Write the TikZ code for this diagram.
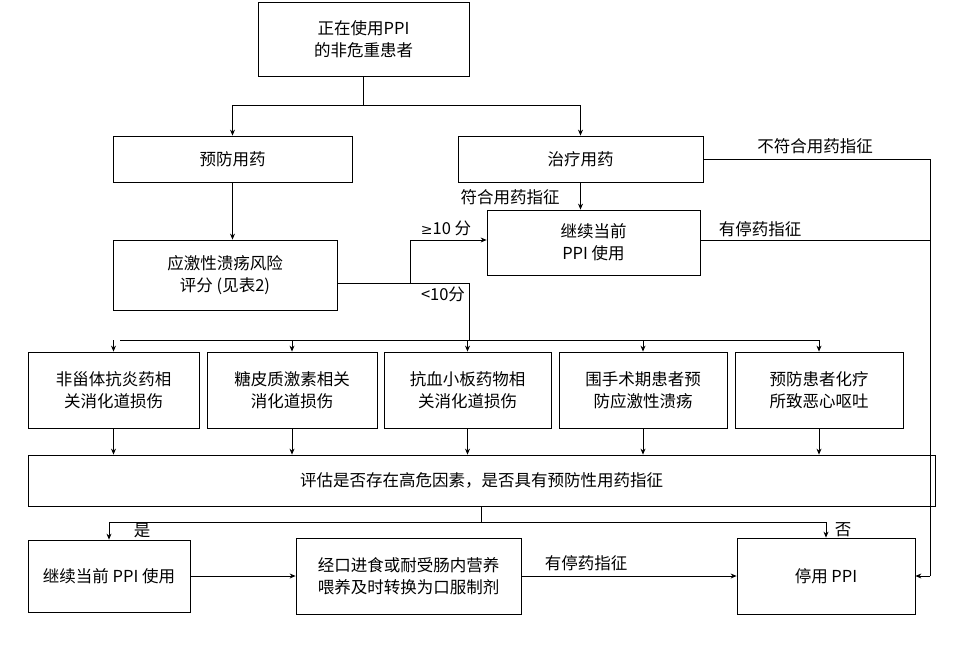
\documentclass[tikz,border=0pt]{standalone}
\usepackage{fontspec}
\setmainfont{Liberation Serif}
\newfontfamily\cjk{Noto Sans CJK SC}
\usetikzlibrary{arrows.meta}
\begin{document}
\begin{tikzpicture}[x=1pt,y=-1pt,
  box/.style={draw,line width=0.8pt,align=center,font=\cjk\fontsize{16.5}{22}\selectfont,inner sep=0pt},
  lab/.style={font=\cjk\fontsize{16.5}{19}\selectfont,inner sep=1pt},
  arr/.style={draw,line width=0.8pt,-{Stealth[length=6pt,width=5pt]}},
  ln/.style={draw,line width=0.8pt}]
\useasboundingbox (0,0) rectangle (953,660);
\newcommand\bx[6]{\node[box,minimum width=#4-#2,minimum height=#5-#3] (#1) at ({(#2+#4)/2},{(#3+#5)/2}) {#6};}
\bx{top}{258}{2}{469}{76}{正在使用PPI\\的非危重患者}
\bx{yf}{113}{136}{352}{182}{预防用药}
\bx{zl}{458}{136}{703}{182}{治疗用药}
\bx{jx}{487}{210}{700}{275}{继续当前\\PPI 使用}
\bx{pf}{113}{240}{337}{310}{应激性溃疡风险\\评分 (见表2)}
\bx{b1}{28}{352}{199}{428}{非甾体抗炎药相\\关消化道损伤}
\bx{b2}{207}{352}{377}{428}{糖皮质激素相关\\消化道损伤}
\bx{b3}{384}{352}{551}{428}{抗血小板药物相\\关消化道损伤}
\bx{b4}{559}{352}{727}{428}{围手术期患者预\\防应激性溃疡}
\bx{b5}{735}{352}{903}{428}{预防患者化疗\\所致恶心呕吐}
\bx{pg}{28}{455}{935}{506}{评估是否存在高危因素，是否具有预防性用药指征}
\bx{c1}{28}{540}{190}{612}{继续当前 PPI 使用}
\bx{c2}{296}{538}{521}{614}{经口进食或耐受肠内营养\\喂养及时转换为口服制剂}
\bx{c3}{737}{538}{915}{614}{停用 PPI}
% top split
\coordinate (t1) at (363.5,105);
\draw[ln] (top.south) -- (t1);
\draw[arr] (t1) -| (yf.north);
\draw[arr] (t1) -| (zl.north);
% not indicated
\coordinate (r1) at (930,159);
\coordinate (r2) at (930,576);
\draw[ln] (zl.east) -- (r1) -- (r2);
\draw[arr] (r2) -- (c3.east |- r2);
\node[lab] (l1) at (815,146) {不符合用药指征};
\draw[arr] (zl.south) -- (jx.north -| zl.south);
\node[lab] (l2) at (510,197) {符合用药指征};
\draw[ln] (jx.east |- 0,240) -- (930,240);
\node[lab] (l3) at (760,229) {有停药指征};
\draw[arr] (yf.south) -- (yf.south |- pf.north);
% score split
\coordinate (s1) at (410,283);
\coordinate (s2) at (410,240);
\coordinate (s3) at (469,283);
\draw[ln] (pf.east |- s1) -- (s3);
\draw[ln] (s1) -- (s2);
\draw[arr] (s2) -- (jx.west |- s2);
\node[lab] (l4) at (446,228) {\fontspec{DejaVu Serif}\fontsize{14}{16}\selectfont ≥\cjk\fontsize{16.5}{19}\selectfont 10 分};
\node[lab] (l5) at (443,294) {<10分};
\coordinate (h1) at (120,340);
\coordinate (h5) at (819,340);
\draw[ln] (s3) -- (s3 |- h1);
\draw[ln] (h1) -- (h5);
\foreach \b in {b1,b2,b3,b4,b5}{\draw[arr] (\b.north |- h1) -- (\b.north);
  \draw[arr] (\b.south) -- (\b.south |- pg.north);}
% eval split
\coordinate (e1) at (481,522);
\draw[ln] (pg.south -| e1) -- (e1);
\draw[arr] (e1) -| (c1.north);
\draw[arr] (e1) -| (c3.north);
\node[lab] (l6) at (142,531) {是};
\node[lab] (l7) at (843,530) {否};
\draw[arr] (c1.east |- 0,576) -- (c2.west |- 0,576);
\draw[arr] (c2.east |- 0,576) -- (c3.west |- 0,576);
\node[lab] (l8) at (586,563) {有停药指征};
\end{tikzpicture}
\end{document}
